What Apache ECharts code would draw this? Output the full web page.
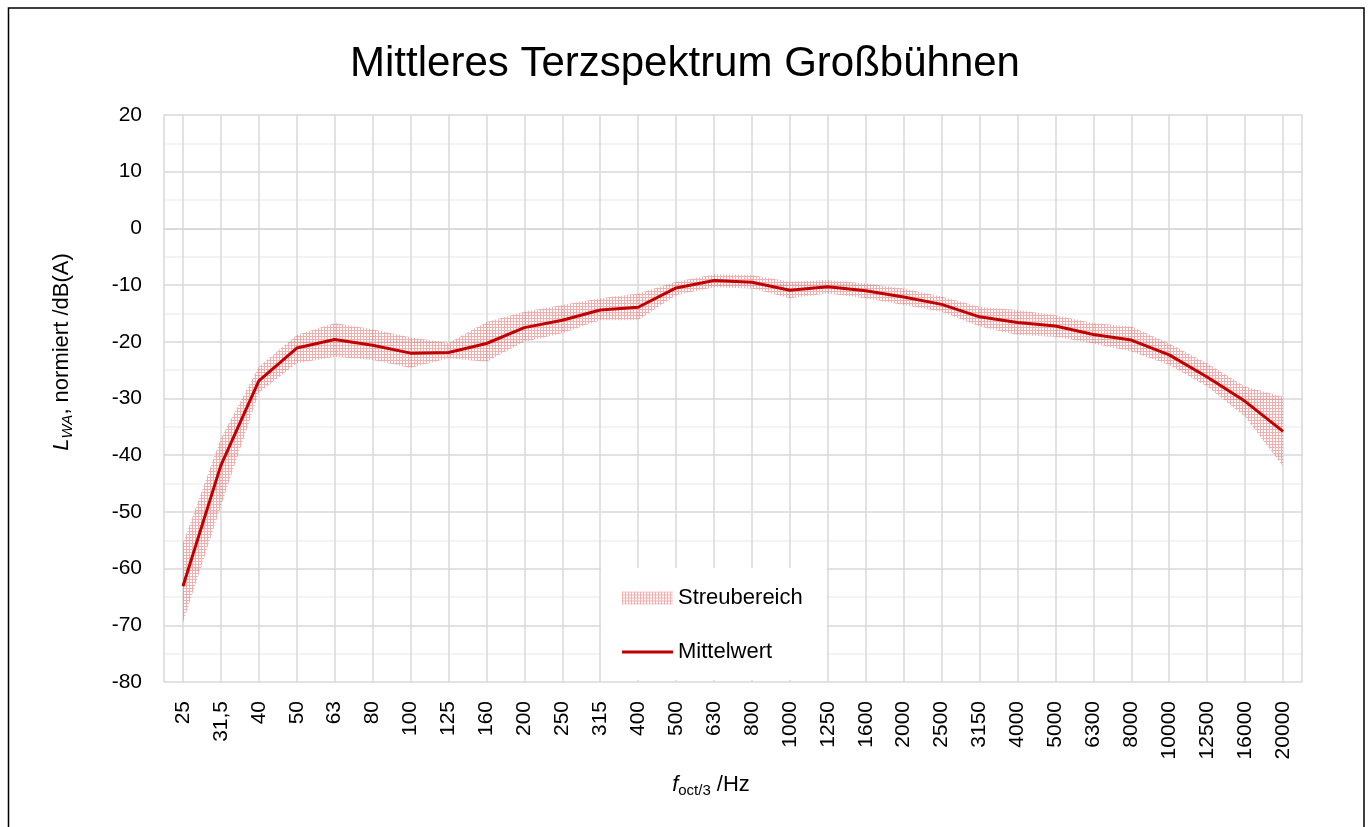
<!DOCTYPE html>
<html>
<head>
<meta charset="utf-8">
<title>Mittleres Terzspektrum Großbühnen</title>
<script src="https://cdn.jsdelivr.net/npm/echarts@6/dist/echarts.min.js"></script>
<style>
  html, body { margin: 0; padding: 0; background: #fff; }
  #spectrum { width: 1370px; height: 827px; }
</style>
</head>
<body>
<div id="spectrum"></div>
<script>
// Terzbänder /Hz
var bands = ['25', '31,5', '40', '50', '63', '80', '100', '125', '160', '200', '250', '315', '400', '500', '630',
  '800', '1000', '1250', '1600', '2000', '2500', '3150', '4000', '5000', '6300', '8000', '10000', '12500', '16000', '20000'];

// Mittelwert /dB(A)
var meanLevel = [-63.1, -41.8, -26.9, -21.1, -19.6, -20.6, -22.0, -21.9, -20.3, -17.5, -16.2, -14.4, -13.9, -10.5, -9.2,
  -9.5, -10.9, -10.3, -11.0, -12.1, -13.4, -15.6, -16.6, -17.2, -18.7, -19.7, -22.3, -26.2, -30.5, -35.8];

// Streubereich oben / unten
var upperLevel = [-55.5, -37.0, -24.4, -18.8, -16.7, -17.8, -19.2, -20.2, -16.5, -14.7, -13.5, -12.3, -11.5, -9.4, -8.1,
  -8.2, -9.4, -9.1, -9.7, -10.6, -12.0, -13.8, -14.4, -15.3, -16.7, -17.3, -20.3, -23.8, -27.9, -29.7];
var lowerLevel = [-69.5, -49.0, -29.0, -23.8, -22.7, -23.2, -24.6, -22.9, -23.5, -20.0, -18.5, -16.2, -16.2, -11.8, -10.4,
  -10.6, -12.3, -11.5, -12.3, -13.5, -14.7, -17.3, -18.8, -19.1, -20.3, -21.7, -24.1, -27.9, -33.2, -42.0];

var yTicks = { min: -80, max: 20, step: 10 };

var FONT = "'Liberation Sans', Arial, sans-serif";

// Schraffur fuer den Streubereich (kleines Gitter)
function makePattern() {
  var c = document.createElement('canvas');
  c.width = 3;
  c.height = 3;
  var ctx = c.getContext('2d');
  ctx.fillStyle = 'rgba(225,80,80,0.45)';
  ctx.fillRect(0, 0, 3, 1);
  ctx.fillRect(0, 1, 1, 2);
  return { image: c, repeat: 'repeat' };
}
var bandFill = makePattern();

// Breite des Streubereichs fuer das Stapeln
var bandWidth = upperLevel.map(function (u, i) { return +(u - lowerLevel[i]).toFixed(2); });

var myChart = echarts.init(document.getElementById('spectrum'));

var option = {
  animation: false,
  backgroundColor: '#fff',
  title: {
    text: 'Mittleres Terzspektrum Großbühnen',
    left: 'center',
    top: 38,
    textStyle: { fontFamily: FONT, fontSize: 42, fontWeight: 'normal', color: '#000' }
  },
  legend: {
    orient: 'vertical',
    left: 601,
    top: 568,
    padding: [19, 24, 17, 21],
    backgroundColor: '#fff',
    itemWidth: 51,
    itemHeight: 13,
    itemGap: 32,
    selectedMode: false,
    textStyle: { fontFamily: FONT, fontSize: 22, color: '#000' },
    data: [
      { name: 'Streubereich', icon: 'rect', itemStyle: { color: bandFill } },
      { name: 'Mittelwert', icon: 'path://M0,0 L52,0 L52,3 L0,3 Z', itemStyle: { color: '#c00000' } }
    ]
  },
  grid: { left: 164, right: 68, top: 115, bottom: 145 },
  xAxis: {
    type: 'category',
    data: bands,
    boundaryGap: true,
    axisLine: { show: true, lineStyle: { color: '#d9d9d9', width: 1.5 } },
    axisTick: { show: false },
    splitLine: { show: false },
    axisLabel: {
      rotate: 90,
      interval: 0,
      margin: 19,
      fontFamily: FONT,
      fontSize: 21,
      color: '#000'
    }
  },
  yAxis: [
    {
      type: 'value',
      min: yTicks.min,
      max: yTicks.max,
      interval: yTicks.step,
      axisLine: { show: true, lineStyle: { color: '#d9d9d9', width: 1.5 } },
      axisTick: { show: false },
      axisLabel: { margin: 22, fontFamily: FONT, fontSize: 21, color: '#000' },
      splitLine: { show: true, lineStyle: { color: '#d9d9d9', width: 1.5 } },
      minorTick: { show: false, splitNumber: 2 },
      minorSplitLine: { show: true, lineStyle: { color: '#efefef', width: 1.5 } }
    },
    {
      // rechter Rand der Zeichenflaeche
      type: 'value',
      position: 'right',
      min: yTicks.min,
      max: yTicks.max,
      interval: yTicks.step,
      axisLine: { show: true, lineStyle: { color: '#d9d9d9', width: 1.5 } },
      axisTick: { show: false },
      axisLabel: { show: false },
      splitLine: { show: false }
    }
  ],
  graphic: [
    {
      type: 'rect',
      silent: true,
      shape: { x: 8.5, y: 8, width: 1355.5, height: 840 },
      style: { fill: 'none', stroke: '#000', lineWidth: 1.5 }
    },
    {
      type: 'text',
      x: 62,
      y: 352,
      rotation: Math.PI / 2,
      silent: true,
      style: {
        text: '{i|L}{s|WA}{n|, normiert /dB(A)}',
        align: 'center',
        verticalAlign: 'middle',
        rich: {
          i: { fontFamily: FONT, fontSize: 22, fontStyle: 'italic', color: '#000', lineHeight: 26 },
          s: { fontFamily: FONT, fontSize: 15, fontStyle: 'italic', color: '#000', lineHeight: 14, verticalAlign: 'bottom' },
          n: { fontFamily: FONT, fontSize: 22, color: '#000', lineHeight: 26 }
        }
      }
    },
    {
      type: 'text',
      x: 711,
      y: 785,
      silent: true,
      style: {
        text: '{i|f}{s|oct/3}{n| /Hz}',
        align: 'center',
        verticalAlign: 'middle',
        rich: {
          i: { fontFamily: FONT, fontSize: 22, fontStyle: 'italic', color: '#000', lineHeight: 26 },
          s: { fontFamily: FONT, fontSize: 15, color: '#000', lineHeight: 14, verticalAlign: 'bottom' },
          n: { fontFamily: FONT, fontSize: 22, color: '#000', lineHeight: 26 }
        }
      }
    }
  ],
  series: [
    {
      // senkrechte Gitterlinien auf den Terzbaendern
      name: 'raster',
      type: 'line',
      data: [],
      silent: true,
      z: 1,
      markLine: {
        silent: true,
        z: 1,
        symbol: 'none',
        label: { show: false },
        lineStyle: { color: '#d9d9d9', width: 1.5, type: 'solid' },
        data: bands.map(function (b) { return { xAxis: b }; })
      }
    },
    {
      name: 'unten',
      type: 'line',
      stack: 'streu',
      stackStrategy: 'all',
      symbol: 'none',
      silent: true,
      lineStyle: { opacity: 0 },
      data: lowerLevel,
      z: 2
    },
    {
      name: 'Streubereich',
      type: 'line',
      stack: 'streu',
      stackStrategy: 'all',
      symbol: 'none',
      silent: true,
      lineStyle: { opacity: 0 },
      areaStyle: { color: bandFill, opacity: 1 },
      itemStyle: { color: bandFill },
      data: bandWidth,
      z: 2
    },
    {
      name: 'Mittelwert',
      type: 'line',
      symbol: 'none',
      silent: true,
      itemStyle: { color: '#c00000' },
      lineStyle: { color: '#c00000', width: 3 },
      data: meanLevel,
      z: 5
    }
  ]
};

myChart.setOption(option);
</script>
</body>
</html>
